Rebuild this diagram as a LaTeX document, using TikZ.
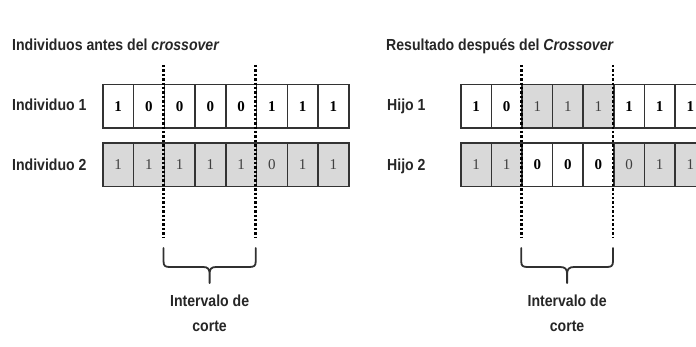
\documentclass[tikz,border=0pt]{standalone}
\usepackage{fontspec}
\setmainfont{Liberation Serif}
\newfontfamily\labfont[FakeStretch=0.88]{Liberation Sans}
\definecolor{txt}{HTML}{262626}
\definecolor{cellline}{HTML}{333333}
\definecolor{cellgray}{HTML}{D9D9D9}
\definecolor{diggray}{HTML}{404040}
\definecolor{bracecol}{HTML}{303030}
\begin{document}
\begin{tikzpicture}[x=1pt,y=-1pt,
  cell/.style={draw=cellline, line width=1.5pt, minimum height=43.5pt,
    inner sep=0pt, anchor=north west},
  lbl/.style={font=\labfont\bfseries\fontsize{16}{25}\selectfont, text=txt, inner sep=0pt},
  cut/.style={line width=2.8pt, dash pattern=on 2.4pt off 2pt, black},
  bracepath/.style={line width=1.8pt, draw=bracecol, line cap=round, line join=round}]

\useasboundingbox (0,0) rectangle (696,347);
\clip (0,0) rectangle (696,347);

% titles
\node[lbl, anchor=base west] (t1) at (12,51) {Individuos antes del \textit{crossover}};
\node[lbl, anchor=base west] (t2) at (386,51) {Resultado después del \textit{Crossover}};

% row labels
\node[lbl, anchor=base west] (li1) at (12,111) {Individuo 1};
\node[lbl, anchor=base west] (li2) at (12,171) {Individuo 2};
\node[lbl, anchor=base west] (lh1) at (387,111) {Hijo 1};
\node[lbl, anchor=base west] (lh2) at (387,171) {Hijo 2};

% Individuo 1
\foreach \v/\f/\c/\ft [count=\i from 0] in
  {1/white/black/\bfseries, 0/white/black/\bfseries, 0/white/black/\bfseries, 0/white/black/\bfseries,
   0/white/black/\bfseries, 1/white/black/\bfseries, 1/white/black/\bfseries, 1/white/black/\bfseries}
  \node[cell, minimum width=30.75pt, fill=\f, text=\c, font={\fontsize{15}{15}\selectfont\ft}]
    (ia\i) at ({102+\i*30.75},84) {\v};
% Individuo 2
\foreach \v/\f/\c/\ft [count=\i from 0] in
  {1/cellgray/diggray/\mdseries, 1/cellgray/diggray/\mdseries, 1/cellgray/diggray/\mdseries, 1/cellgray/diggray/\mdseries,
   1/cellgray/diggray/\mdseries, 0/cellgray/diggray/\mdseries, 1/cellgray/diggray/\mdseries, 1/cellgray/diggray/\mdseries}
  \node[cell, minimum width=30.75pt, fill=\f, text=\c, font={\fontsize{15}{15}\selectfont\ft}]
    (ib\i) at ({102+\i*30.75},142.5) {\v};
% Hijo 1
\foreach \v/\f/\c/\ft [count=\i from 0] in
  {1/white/black/\bfseries, 0/white/black/\bfseries, 1/cellgray/diggray/\mdseries, 1/cellgray/diggray/\mdseries,
   1/cellgray/diggray/\mdseries, 1/white/black/\bfseries, 1/white/black/\bfseries, 1/white/black/\bfseries}
  \node[cell, minimum width=30.6pt, fill=\f, text=\c, font={\fontsize{15}{15}\selectfont\ft}]
    (ha\i) at ({460+\i*30.6},84) {\v};
% Hijo 2
\foreach \v/\f/\c/\ft [count=\i from 0] in
  {1/cellgray/diggray/\mdseries, 1/cellgray/diggray/\mdseries, 0/white/black/\bfseries, 0/white/black/\bfseries,
   0/white/black/\bfseries, 0/cellgray/diggray/\mdseries, 1/cellgray/diggray/\mdseries, 1/cellgray/diggray/\mdseries}
  \node[cell, minimum width=30.6pt, fill=\f, text=\c, font={\fontsize{15}{15}\selectfont\ft}]
    (hb\i) at ({460+\i*30.6},142.5) {\v};

% cut lines
\coordinate (la) at (163.5,65);  \coordinate (laE) at (163.5,238);
\coordinate (lb) at (255.75,65); \coordinate (lbE) at (255.75,238);
\coordinate (ra) at (521.2,65);  \coordinate (raE) at (521.2,238);
\coordinate (rb) at (613,65);    \coordinate (rbE) at (613,238);
\draw[cut] (la) -- (laE);
\draw[cut] (lb) -- (lbE);
\draw[cut] (ra) -- (raE);
\draw[cut] (rb) -- (rbE);

% braces
\draw[bracepath] (163.5,248) -- (163.5,261) .. controls (163.5,266) and (165,267) .. (170,267)
  -- (203,267) .. controls (208,267) and (209.6,269) .. (209.6,274) -- (209.6,283)
  (209.6,274) .. controls (209.6,269) and (211.2,267) .. (216.2,267)
  -- (249.2,267) .. controls (254.2,267) and (255.75,266) .. (255.75,261) -- (255.75,248);
\draw[bracepath] (521.2,248) -- (521.2,261) .. controls (521.2,266) and (522.7,267) .. (527.7,267)
  -- (560.1,267) .. controls (565.1,267) and (567.1,269) .. (567.1,274) -- (567.1,283)
  (567.1,274) .. controls (567.1,269) and (569.1,267) .. (574.1,267)
  -- (606.5,267) .. controls (611.5,267) and (613,266) .. (613,261) -- (613,248);

% interval labels
\node[lbl, align=center, anchor=north] (il) at (209.6,295) {Intervalo de\\corte};
\node[lbl, align=center, anchor=north] (ir) at (567.1,295) {Intervalo de\\corte};
\end{tikzpicture}
\end{document}
